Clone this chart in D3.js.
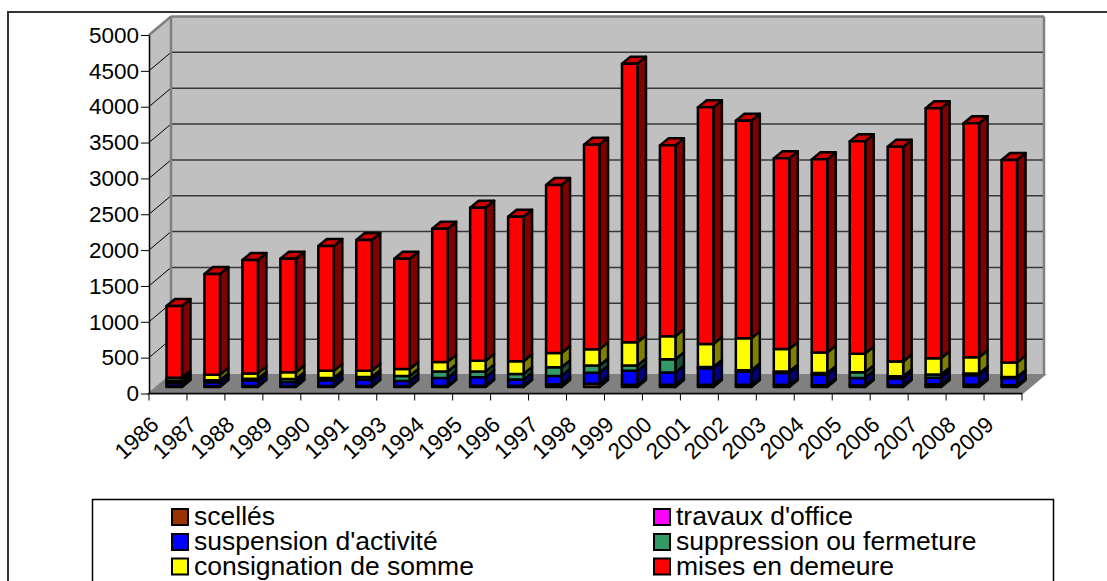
<!DOCTYPE html>
<html><head><meta charset="utf-8">
<script src="https://cdn.jsdelivr.net/npm/d3@7"></script>
<style>html,body{margin:0;padding:0;background:#fff;overflow:hidden}svg{display:block}text{font-family:"Liberation Sans",Arial,sans-serif;fill:#000}</style>
</head><body><svg id="c" width="1107" height="581"></svg>
<script>
const categories=["1986","1987","1988","1989","1990","1991","1993","1994","1995","1996","1997","1998","1999","2000","2001","2002","2003","2004","2005","2006","2007","2008","2009"];
const scelles=[15,10,15,15,15,15,15,15,17,18,15,45,30,30,30,30,30,25,20,20,10,30,25];
const travaux=[0,0,0,0,0,0,0,0,0,0,25,0,0,0,0,0,0,0,0,0,30,0,0];
const suspension=[40,55,75,55,80,85,70,110,120,85,115,155,195,172,230,185,165,150,105,95,90,135,100];
const suppression=[35,30,25,40,30,40,70,90,80,80,120,100,75,185,20,20,20,20,80,35,45,25,15];
const consignation=[40,75,75,95,100,85,95,135,150,175,200,225,325,320,320,445,315,285,260,205,225,225,200];
const mises=[1000,1406,1581,1584,1741,1825,1539,1858,2133,2017,2342,2855,3885,2663,3300,3034,2659,2695,2961,2996,3487,3263,2826];
const seriesNames=["scellés","travaux d'office","suspension d'activité","suppression ou fermeture","consignation de somme","mises en demeure"];
const seriesValues=[scelles,travaux,suspension,suppression,consignation,mises];
const front=["#993300","#ff00ff","#0000ff","#339966","#ffff00","#ff0000"];
const side=["#4d1a00","#800080","#000080","#1a4d33","#808000","#800000"];
const topc=["#4d1a00","#800080","#000080","#1a4d33","#808000","#cc0000"];
const yTicks=[0,500,1000,1500,2000,2500,3000,3500,4000,4500,5000];

const svg=d3.select("#c");
const x=d3.scaleBand().domain(categories).range([149,1022]).paddingInner(0).paddingOuter(0);
const y=d3.scaleLinear().domain([0,5000]).range([393.5,35]);
const DX=22,DY=-18.5;
const poly=(pts,fill,stroke,sw)=>svg.append("polygon").attr("points",pts.map(p=>p.join(",")).join(" ")).attr("fill",fill).attr("stroke",stroke||"none").attr("stroke-width",sw||0);

// outer frame, clipped by the right and bottom edges of the page
svg.append("rect").attr("x",8).attr("y",12).attr("width",1200).attr("height",700).attr("fill","#fff").attr("stroke","#333").attr("stroke-width",2);

// walls
const x0=x.range()[0],x1=x.range()[1];
poly([[x0,y(0)],[x0+DX,y(0)+DY],[x0+DX,y(5000)+DY],[x0,y(5000)]],"#c0c0c0");
poly([[x0+DX,y(0)+DY],[x1+DX,y(0)+DY],[x1+DX,y(5000)+DY],[x0+DX,y(5000)+DY]],"#c0c0c0");
poly([[x0,y(0)],[x0+DX,y(0)+DY],[x1+DX,y(0)+DY],[x1,y(0)]],"#808080","#808080",2);
// gridlines
yTicks.slice(1,-1).forEach(t=>{
  svg.append("line").attr("x1",x0).attr("y1",y(t)).attr("x2",x0+DX).attr("y2",y(t)+DY).attr("stroke","#000");
  svg.append("line").attr("x1",x0+DX).attr("y1",y(t)+DY).attr("x2",x1+DX).attr("y2",y(t)+DY).attr("stroke","#383838").attr("stroke-width",1.5);
});
// wall edges
const edge=(a,b,c,d,col,w)=>svg.append("line").attr("x1",a).attr("y1",b).attr("x2",c).attr("y2",d).attr("stroke",col).attr("stroke-width",w);
edge(x0+DX,y(0)+DY,x0+DX,y(5000)+DY,"#808080",2.5);
edge(x0+DX,y(5000)+DY,x1+DX,y(5000)+DY,"#808080",2.5);
edge(x0,y(5000),x0+DX,y(5000)+DY,"#808080",2.5);
edge(x1+DX,y(5000)+DY,x1+DX,y(0)+DY,"#808080",2.5);

// bars
const bw=15.5,bdx=8.5,bdy=-7,inset=17.5,lift=-6.5,sw=2.5;
categories.forEach((c,i)=>{
  const bx=x(c)+inset;
  let cum=0;
  seriesValues.forEach((vals,s)=>{
    const v=vals[i];
    if(!v)return;
    const yb=y(cum)+lift,yt=y(cum+v)+lift;
    cum+=v;
    poly([[bx+bw,yb],[bx+bw+bdx,yb+bdy],[bx+bw+bdx,yt+bdy],[bx+bw,yt]],side[s],"#000",sw).attr("stroke-linejoin","round");
    if(s===seriesValues.length-1)poly([[bx,yt],[bx+bdx,yt+bdy],[bx+bw+bdx,yt+bdy],[bx+bw,yt]],topc[s],"#000",sw).attr("stroke-linejoin","round");
    svg.append("rect").attr("x",bx).attr("y",yt).attr("width",bw).attr("height",yb-yt).attr("fill",front[s]).attr("stroke","#000").attr("stroke-width",sw).attr("stroke-linejoin","round");
  });
});

// axes
const yAxis=d3.axisLeft(y).tickValues(yTicks).tickSize(8).tickPadding(2).tickSizeOuter(0).tickFormat(d3.format("d"));
const gy=svg.append("g").attr("transform",`translate(${x0},0)`).call(yAxis);
gy.select(".domain").attr("stroke","#000").attr("stroke-width",1.5);
gy.selectAll("text").style("font-size","22.5px").style("font-family",'"Liberation Sans"').attr("fill","#000");
const gx=svg.append("g").attr("transform",`translate(0,${y(0)})`);
gx.append("line").attr("x1",x0).attr("x2",x1).attr("stroke","#000").attr("stroke-width",1.5);
[...categories.map(c=>x(c)),x1].forEach(t=>gx.append("line").attr("x1",t).attr("x2",t).attr("y1",0).attr("y2",7).attr("stroke","#000"));
categories.forEach(c=>{
  svg.append("text").attr("transform",`translate(${x(c)},${y(0)+21}) rotate(-43)`).attr("text-anchor","end").attr("font-size",22.5).attr("dy","0.72em").text(c);
});

// legend
svg.append("rect").attr("x",92.5).attr("y",499.5).attr("width",961).attr("height",120).attr("fill","#fff").attr("stroke","#000").attr("stroke-width",1.5);
const lx=[172,654],ly=[517,542,566.5];
seriesNames.forEach((n,i)=>{
  const col=i%2,row=Math.floor(i/2);
  svg.append("rect").attr("x",lx[col]).attr("y",ly[row]-8).attr("width",16).attr("height",16).attr("fill",front[i]).attr("stroke","#000").attr("stroke-width",2);
  svg.append("text").attr("x",lx[col]+22).attr("y",ly[row]+8).attr("font-size",26.5).text(n);
});
</script></body></html>
